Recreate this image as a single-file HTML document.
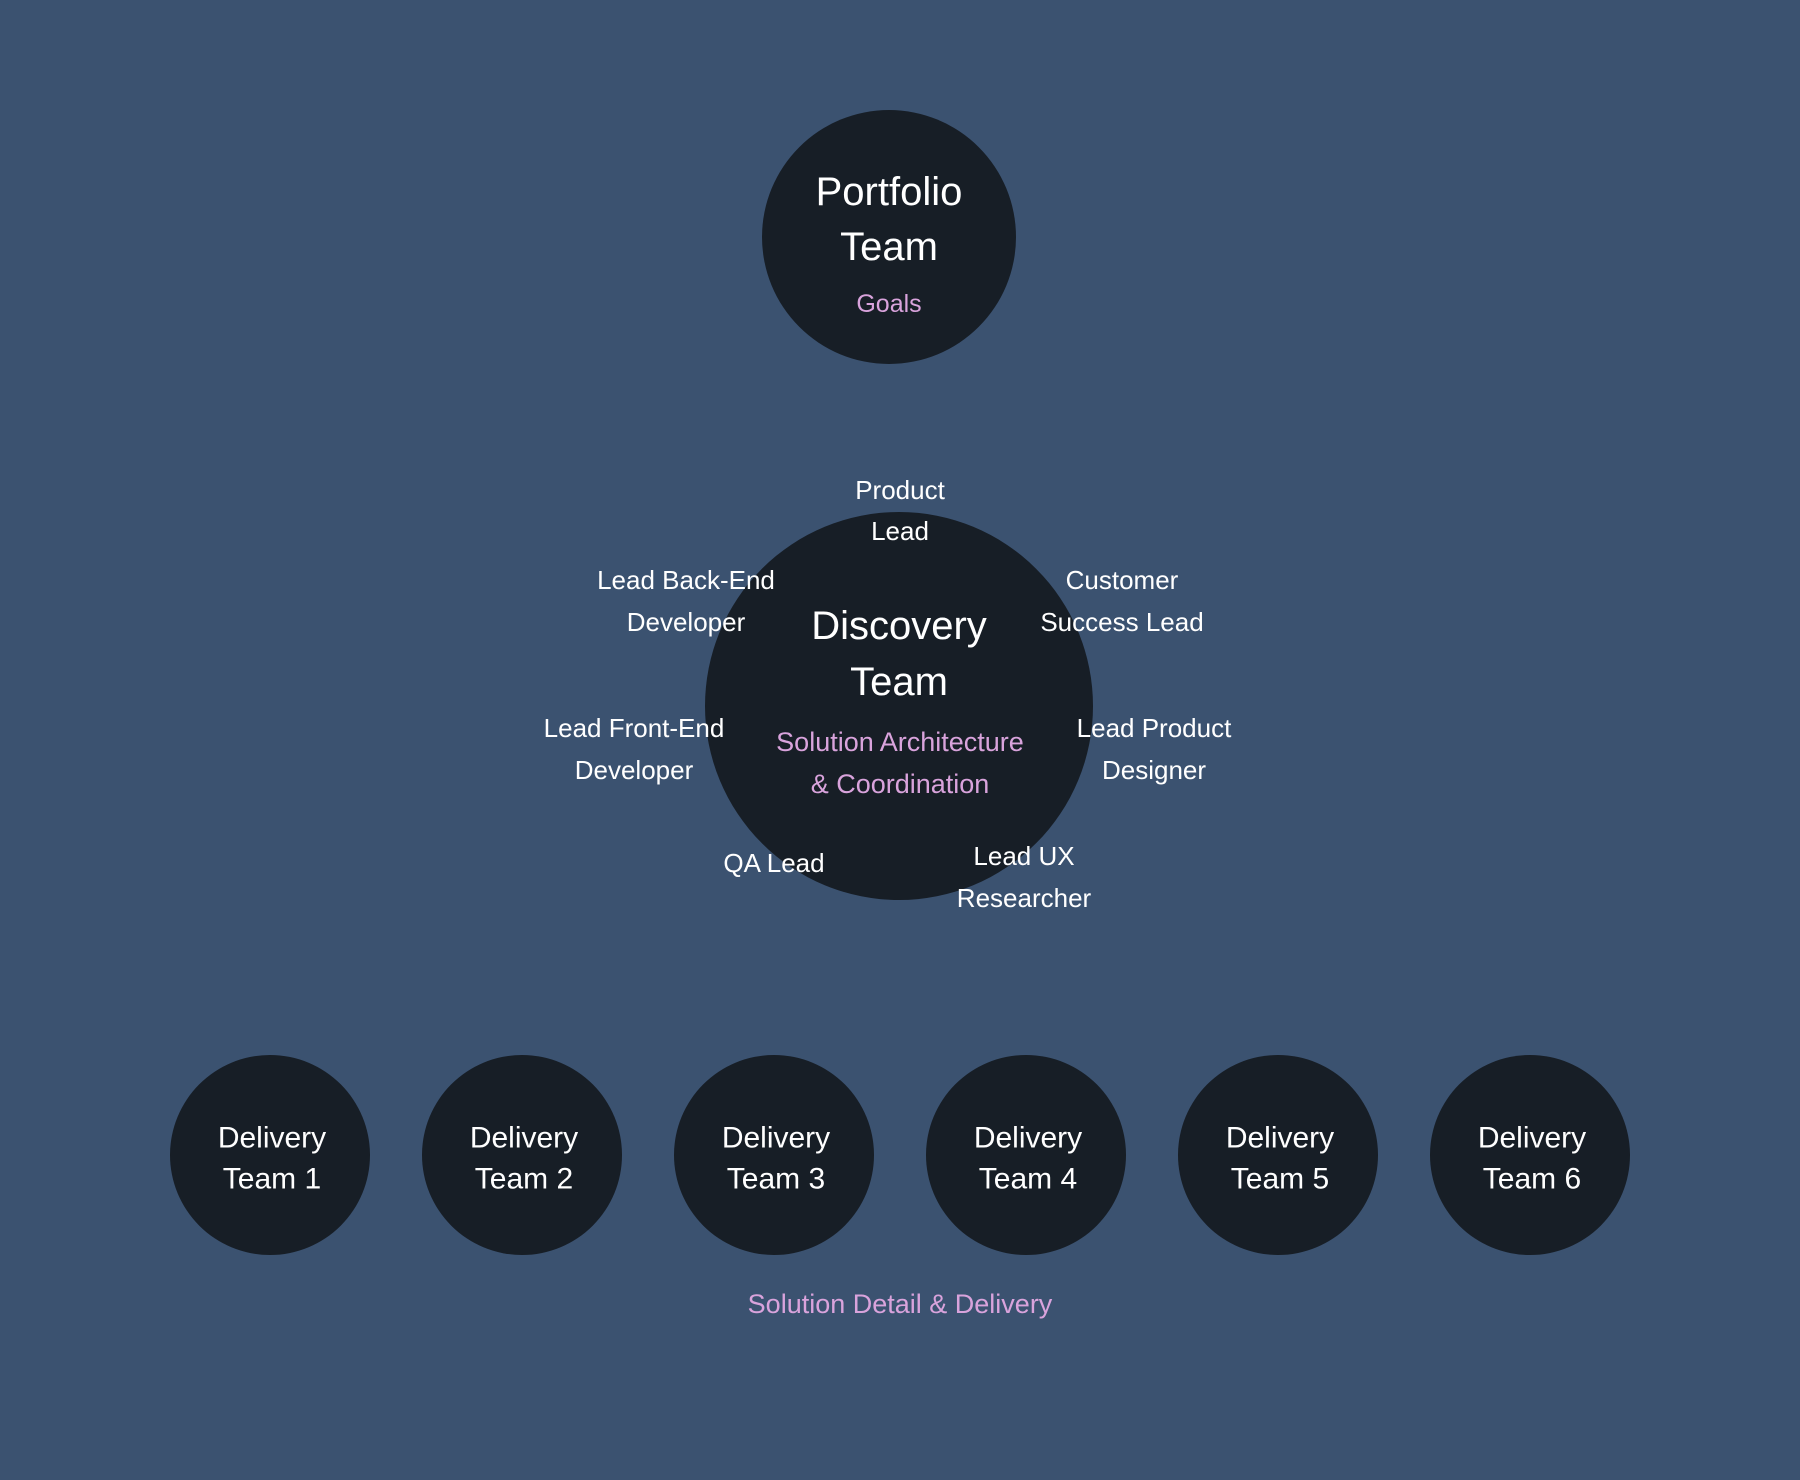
<!DOCTYPE html>
<html><head><meta charset="utf-8"><style>
html,body{margin:0;padding:0;background:#3b5270;}
svg{display:block;}
text{font-family:"Liberation Sans",sans-serif;text-anchor:middle;dominant-baseline:central;}
.w{fill:#ffffff;}
.p{fill:#d9a3dc;}
</style></head><body>
<svg width="1800" height="1480" viewBox="0 0 1800 1480" xmlns="http://www.w3.org/2000/svg">
<rect width="1800" height="1480" fill="#3b5270"/>
<circle cx="889" cy="237" r="127" fill="#171e26"/>
<text class="w" x="889" y="192" font-size="40">Portfolio</text>
<text class="w" x="889" y="247" font-size="40">Team</text>
<text class="p" x="889" y="304" font-size="25">Goals</text>

<circle cx="899" cy="706" r="194" fill="#171e26"/>
<text class="w" x="899" y="626" font-size="40">Discovery</text>
<text class="w" x="899" y="682" font-size="40">Team</text>
<text class="p" x="900" y="742" font-size="27">Solution Architecture</text>
<text class="p" x="900" y="784" font-size="27">&amp; Coordination</text>

<g class="w" font-size="26">
<text class="w" x="900" y="490">Product</text>
<text class="w" x="900" y="531">Lead</text>
<text class="w" x="686" y="580">Lead Back-End</text>
<text class="w" x="686" y="622">Developer</text>
<text class="w" x="1122" y="580">Customer</text>
<text class="w" x="1122" y="622">Success Lead</text>
<text class="w" x="634" y="728">Lead Front-End</text>
<text class="w" x="634" y="770">Developer</text>
<text class="w" x="1154" y="728">Lead Product</text>
<text class="w" x="1154" y="770">Designer</text>
<text class="w" x="774" y="863">QA Lead</text>
<text class="w" x="1024" y="856">Lead UX</text>
<text class="w" x="1024" y="898">Researcher</text>
</g>

<g font-size="30">
<circle cx="270" cy="1155" r="100" fill="#171e26"/>
<text class="w" x="272" y="1138">Delivery</text><text class="w" x="272" y="1179">Team 1</text>
<circle cx="522" cy="1155" r="100" fill="#171e26"/>
<text class="w" x="524" y="1138">Delivery</text><text class="w" x="524" y="1179">Team 2</text>
<circle cx="774" cy="1155" r="100" fill="#171e26"/>
<text class="w" x="776" y="1138">Delivery</text><text class="w" x="776" y="1179">Team 3</text>
<circle cx="1026" cy="1155" r="100" fill="#171e26"/>
<text class="w" x="1028" y="1138">Delivery</text><text class="w" x="1028" y="1179">Team 4</text>
<circle cx="1278" cy="1155" r="100" fill="#171e26"/>
<text class="w" x="1280" y="1138">Delivery</text><text class="w" x="1280" y="1179">Team 5</text>
<circle cx="1530" cy="1155" r="100" fill="#171e26"/>
<text class="w" x="1532" y="1138">Delivery</text><text class="w" x="1532" y="1179">Team 6</text>
</g>
<text class="p" x="900" y="1304" font-size="27">Solution Detail &amp; Delivery</text>
</svg>
</body></html>
